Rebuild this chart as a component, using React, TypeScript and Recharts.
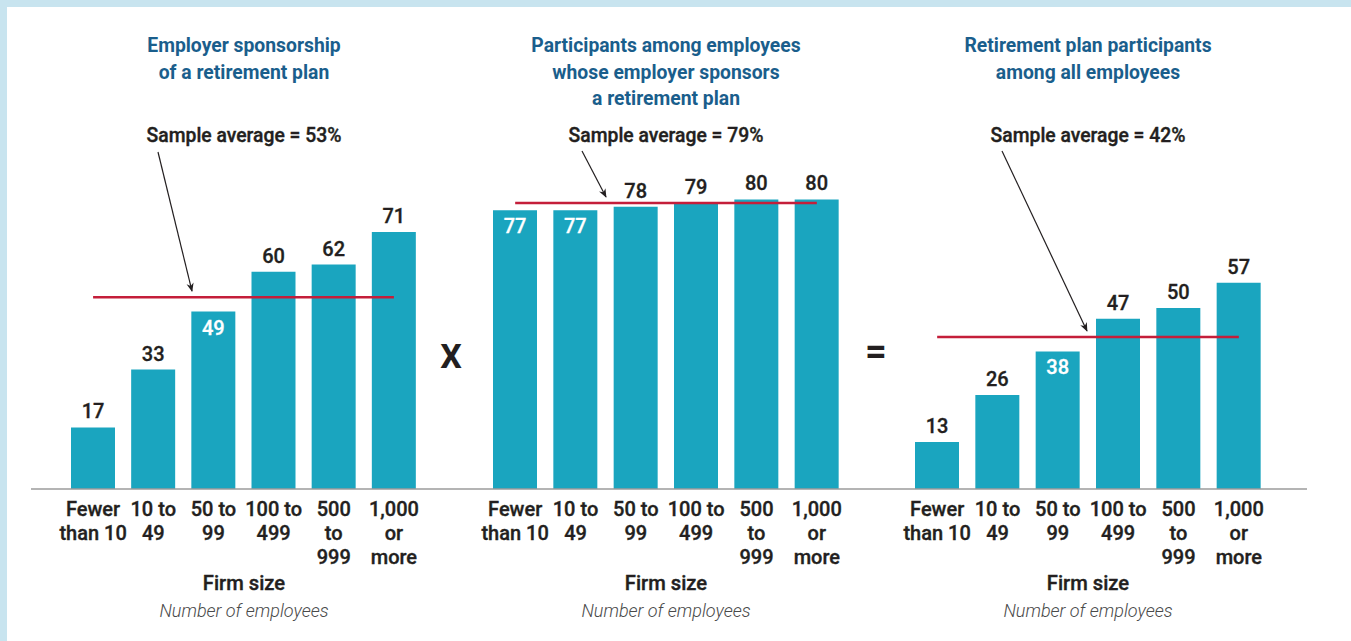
import { BarChart, Bar, XAxis, YAxis, ReferenceLine, LabelList } from 'recharts'

// firm size buckets, shared by all three panels
const categories = ['Fewer\nthan 10', '10 to\n49', '50 to\n99', '100 to\n499', '500\nto\n999', '1,000\nor\nmore']

// percent values
const sponsorship = [17, 33, 49, 60, 62, 71]
const participation = [77, 77, 78, 79, 80, 80]
const coverage = [13, 26, 38, 47, 50, 57]

const sampleAverages = [53, 79, 42]

const titleLines = [
  ['Employer sponsorship', 'of a retirement plan'],
  ['Participants among employees', 'whose employer sponsors', 'a retirement plan'],
  ['Retirement plan participants', 'among all employees'],
]

const FONT = "Roboto, 'Noto Sans', sans-serif"
const BAR = '#1AA5BF'
const INK = '#231F20'
const TITLE = '#1A5E8C'
const RED = '#C41E3A'

// chart frame (page coords)
const CHART_TOP = 117
const MARGIN_TOP = 10
const PLOT_H = 362
const AXIS_H = 90
const CHART_H = MARGIN_TOP + PLOT_H + AXIS_H
const BASELINE = CHART_TOP + MARGIN_TOP + PLOT_H
const yOf = (v: number) => BASELINE - (v / 100) * PLOT_H

const panels = [
  { values: sponsorship, left: 31, width: 422, pad: { left: 32, right: 29 }, center: 244, arrow: [158, 152, 192] },
  { values: participation, left: 453, width: 422, pad: { left: 32, right: 28 }, center: 666, arrow: [582, 151, 606] },
  { values: coverage, left: 875, width: 432, pad: { left: 32, right: 38 }, center: 1088, arrow: [1002, 151, 1087] },
]

const CategoryTick = (props: any) => {
  const { x, y, payload } = props
  const lines = String(payload.value).split('\n')
  return (
    <text x={x} y={y + 12} textAnchor="middle" fontFamily={FONT} fontSize={20} fontWeight={500} fill={INK} stroke={INK} strokeWidth={0.35}>
      {lines.map((l, i) => (
        <tspan key={i} x={x} dy={i === 0 ? '0.35em' : 24}>{l}</tspan>
      ))}
    </text>
  )
}

const ValueLabel = (props: any) => {
  const { x, y, width, value, avg } = props
  const gap = avg - value
  const inside = gap >= 2 && gap <= 5
  const color = inside ? '#fff' : INK
  return (
    <text
      x={x + width / 2}
      y={inside ? y + 16 : y - 16}
      textAnchor="middle"
      dominantBaseline="central"
      fontFamily={FONT}
      fontSize={20}
      fontWeight={500}
      fill={color}
      stroke={color}
      strokeWidth={0.3}
    >
      {value}
    </text>
  )
}

function Panel({ values, avg, left, width, pad }: { values: number[]; avg: number; left: number; width: number; pad: { left: number; right: number } }) {
  const data = categories.map((size, i) => ({ size, value: values[i] }))
  return (
    <div style={{ position: 'absolute', left, top: CHART_TOP }}>
      <BarChart width={width} height={CHART_H} data={data} margin={{ top: MARGIN_TOP, right: 0, bottom: 0, left: 0 }} barSize={44}>
        <XAxis
          dataKey="size"
          padding={pad}
          axisLine={{ stroke: '#9B9B9B', strokeWidth: 1.5 }}
          tickLine={false}
          interval={0}
          height={AXIS_H}
          tick={<CategoryTick />}
        />
        <YAxis hide domain={[0, 100]} />
        <Bar dataKey="value" fill={BAR} isAnimationActive={false}>
          <LabelList dataKey="value" content={(p: any) => <ValueLabel {...p} avg={avg} />} />
        </Bar>
        <ReferenceLine
          segment={[{ x: categories[0], y: avg }, { x: categories[categories.length - 1], y: avg }]}
          stroke={RED}
          strokeWidth={2.5}
        />
      </BarChart>
    </div>
  )
}

// centred text block, squeezed a little to get the condensed look
const centered = (cx: number, top: number, squeeze = 1, w = 340): React.CSSProperties => ({
  position: 'absolute', left: cx - w / 2, top, width: w, textAlign: 'center',
  transform: `scaleX(${squeeze})`, transformOrigin: 'center',
})

export default function App() {
  return (
    <div style={{ position: 'fixed', left: 0, top: 0, width: 1351, height: 641, background: '#C8E4EF', overflow: 'hidden', fontFamily: FONT }}>
      <div style={{ position: 'absolute', left: 7, top: 7, width: 1344, height: 634, background: '#fff' }} />

      {panels.map((p, i) => (
        <Panel key={i} values={p.values} avg={sampleAverages[i]} left={p.left} width={p.width} pad={p.pad} />
      ))}

      {panels.map((p, i) => (
        <div key={'t' + i}>
          <div style={{ ...centered(p.center, 32, 0.92), color: TITLE, fontSize: 21, fontWeight: 700, lineHeight: '26.5px' }}>
            {titleLines[i].map((l, j) => <div key={j}>{l}</div>)}
          </div>
          <div style={{ ...centered(p.center, 121, 0.92), color: INK, fontSize: 21, fontWeight: 500, lineHeight: '28px', WebkitTextStroke: '0.4px ' + INK }}>
            Sample average = {sampleAverages[i]}%
          </div>
          <div style={{ ...centered(p.center, 569, 0.96), color: INK, fontSize: 21, fontWeight: 500, lineHeight: '28px', WebkitTextStroke: '0.4px ' + INK }}>
            Firm size
          </div>
          <div style={{ ...centered(p.center, 598), color: '#4A4A4A', fontSize: 18, fontStyle: 'italic', fontWeight: 300, lineHeight: '26px' }}>
            Number of employees
          </div>
        </div>
      ))}

      <div style={{ ...centered(451, 336, 1, 60), color: INK, fontSize: 34, fontWeight: 700, lineHeight: '40px' }}>X</div>
      <div style={{ ...centered(876, 331, 1, 60), color: INK, fontSize: 38, fontWeight: 700, lineHeight: '40px' }}>=</div>

      <svg width={1351} height={641} style={{ position: 'absolute', left: 0, top: 0, pointerEvents: 'none' }}>
        <defs>
          <marker id="head" viewBox="0 0 10 10" refX="9" refY="5" markerWidth="9" markerHeight="14" markerUnits="userSpaceOnUse" orient="auto">
            <path d="M0,1 L10,5 L0,9 L3,5 Z" fill={INK} />
          </marker>
        </defs>
        {panels.map((p, i) => (
          <line
            key={i}
            x1={p.arrow[0]}
            y1={p.arrow[1]}
            x2={p.arrow[2]}
            y2={yOf(sampleAverages[i]) - 6}
            stroke={INK}
            strokeWidth={1.2}
            markerEnd="url(#head)"
          />
        ))}
      </svg>
    </div>
  )
}
